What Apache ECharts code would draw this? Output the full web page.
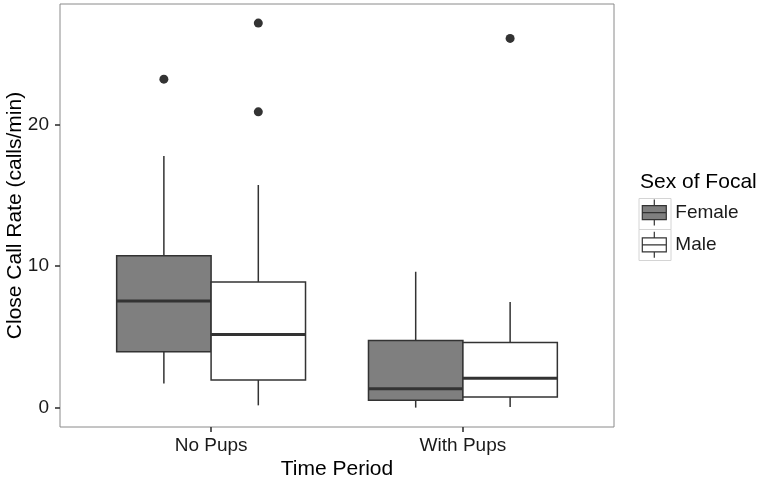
<!DOCTYPE html>
<html>
<head>
<meta charset="utf-8">
<script src="https://cdn.jsdelivr.net/npm/echarts@6/dist/echarts.min.js"></script>
<style>html,body{margin:0;padding:0;background:#fff;}#main{width:760px;height:480px;}</style>
</head>
<body>
<div id="main"></div>
<script>
// ---- data ----
const categories = ['No Pups', 'With Pups'];
const groups = ['Female', 'Male'];
// [lower whisker, Q1, median, Q3, upper whisker] per category
const femaleBox = [
  [1.70, 3.94, 7.54, 10.73, 17.78],
  [0.00, 0.52, 1.34, 4.74, 9.60]
];
const maleBox = [
  [0.16, 1.95, 5.17, 8.87, 15.73],
  [0.04, 0.75, 2.07, 4.60, 7.47]
];
const femaleOutliers = [[23.21], []];
const maleOutliers = [[27.17, 20.90], [26.09]];
const yTicks = [0, 10, 20];
const yRange = [-1.37, 28.52];

// ---- styling / layout ----
const FONT = "'Liberation Sans', Arial, Helvetica, sans-serif";
const LINE = '#333333';
const FILL = { Female: '#7f7f7f', Male: '#ffffff' };
const DODGE = 0.375;

function makeRender(side, fill) {
  return function (params, api) {
    const x = api.value(0);
    const lo = api.value(1), q1 = api.value(2), med = api.value(3), q3 = api.value(4), hi = api.value(5);
    const xl = side < 0 ? x - DODGE : x;
    const xr = side < 0 ? x : x + DODGE;
    const L = api.coord([xl, q1])[0];
    const R = api.coord([xr, q1])[0];
    const C = (L + R) / 2;
    const yLo = api.coord([x, lo])[1];
    const yQ1 = api.coord([x, q1])[1];
    const yMed = api.coord([x, med])[1];
    const yQ3 = api.coord([x, q3])[1];
    const yHi = api.coord([x, hi])[1];
    const ls = { stroke: LINE, lineWidth: 1.5 };
    return {
      type: 'group',
      children: [
        { type: 'line', shape: { x1: C, y1: yQ3, x2: C, y2: yHi }, style: ls },
        { type: 'line', shape: { x1: C, y1: yQ1, x2: C, y2: yLo }, style: ls },
        { type: 'rect', shape: { x: L, y: yQ3, width: R - L, height: yQ1 - yQ3 }, style: { fill: fill, stroke: LINE, lineWidth: 1.5 } },
        { type: 'line', shape: { x1: L, y1: yMed, x2: R, y2: yMed }, style: { stroke: LINE, lineWidth: 3 } }
      ]
    };
  };
}

function outlierPoints(list, side) {
  const pts = [];
  list.forEach((vals, i) => vals.forEach(v => pts.push([i + 1 + side * DODGE / 2, v])));
  return pts;
}

const iconPath = 'path://M0,6L24,6L24,20L0,20Z M0,13L24,13 M12,0L12,6 M12,20L12,26';

const chart = echarts.init(document.getElementById('main'), null, { renderer: 'canvas' });
chart.setOption({
  animation: false,
  backgroundColor: '#ffffff',
  textStyle: { fontFamily: FONT },
  grid: { left: 60, right: 146, top: 4, bottom: 53, show: true, borderColor: '#8a8a8a', borderWidth: 1, backgroundColor: '#ffffff',
    containLabel: false, outerBoundsMode: 'none' },
  xAxis: {
    type: 'value', min: 0.4, max: 2.6,
    name: 'Time Period', nameLocation: 'middle', nameGap: 32, nameMoveOverlap: false,
    nameTextStyle: { fontSize: 21, color: '#000', fontFamily: FONT },
    axisLine: { show: false, onZero: false },
    splitLine: { show: false },
    axisTick: { show: true, inside: false, length: 5, lineStyle: { color: LINE, width: 1.6 }, customValues: [1, 2] },
    axisLabel: { fontSize: 19, color: '#1a1a1a', margin: 9, fontFamily: FONT, customValues: [1, 2],
      formatter: v => categories[Math.round(v) - 1] || '' }
  },
  yAxis: {
    type: 'value', min: yRange[0], max: yRange[1],
    name: 'Close Call Rate (calls/min)', nameLocation: 'middle', nameGap: 34, nameRotate: 90, nameMoveOverlap: false,
    nameTextStyle: { fontSize: 21, color: '#000', fontFamily: FONT },
    axisLine: { show: false, onZero: false },
    splitLine: { show: false },
    axisTick: { show: true, inside: false, length: 5, lineStyle: { color: LINE, width: 1.6 }, customValues: yTicks },
    axisLabel: { fontSize: 19, color: '#1a1a1a', margin: 11, fontFamily: FONT, customValues: yTicks }
  },
  legend: {
    orient: 'vertical', left: 641.7, top: 199, padding: 0,
    itemWidth: 24, itemHeight: 26, itemGap: 5,
    selectedMode: false,
    textStyle: { fontSize: 19, color: '#1a1a1a', fontFamily: FONT, padding: [0, 0, 0, 4] },
    data: groups.map(g => ({ name: g, icon: iconPath, itemStyle: { color: FILL[g], borderColor: LINE, borderWidth: 1.2 } }))
  },
  graphic: [
    { type: 'text', left: 640, top: 172, style: { text: 'Sex of Focal', font: '21px ' + FONT, fill: '#000' } },
    { type: 'rect', left: 636.5, top: 196, shape: { width: 32, height: 31 }, style: { fill: 'none', stroke: '#d4d4d4', lineWidth: 1 }, z: -1 },
    { type: 'rect', left: 636.5, top: 227, shape: { width: 32, height: 31 }, style: { fill: 'none', stroke: '#d4d4d4', lineWidth: 1 }, z: -1 }
  ],
  series: [
    { name: 'Female', type: 'custom', renderItem: makeRender(-1, FILL.Female),
      itemStyle: { color: FILL.Female },
      encode: { x: 0, y: [1, 2, 3, 4, 5] },
      data: femaleBox.map((d, i) => [i + 1].concat(d)) },
    { name: 'Male', type: 'custom', renderItem: makeRender(1, FILL.Male),
      itemStyle: { color: FILL.Male },
      encode: { x: 0, y: [1, 2, 3, 4, 5] },
      data: maleBox.map((d, i) => [i + 1].concat(d)) },
    { name: 'Female outliers', type: 'scatter', symbolSize: 9, itemStyle: { color: LINE, opacity: 1 },
      data: outlierPoints(femaleOutliers, -1) },
    { name: 'Male outliers', type: 'scatter', symbolSize: 9, itemStyle: { color: LINE, opacity: 1 },
      data: outlierPoints(maleOutliers, 1) }
  ]
});
</script>
</body>
</html>
